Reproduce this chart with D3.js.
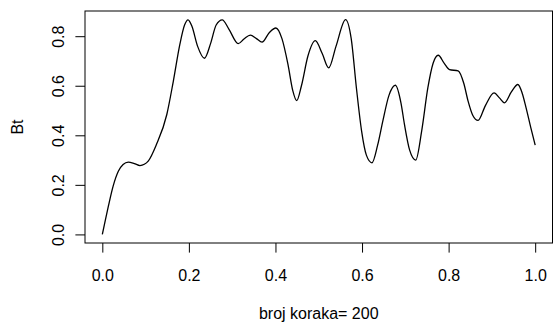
<!DOCTYPE html>
<html>
<head>
<meta charset="utf-8">
<script src="https://cdn.jsdelivr.net/npm/d3@7"></script>
<style>
  html, body { margin: 0; padding: 0; background: #fff; }
  svg text { font-family: "Liberation Sans", Arial, sans-serif; font-size: 16px; fill: #000; }
</style>
</head>
<body>
<svg id="chart" width="553" height="322"></svg>
<script>
// Bt values (200 steps, smooth path)
const steps = [0.000, 0.007, 0.014, 0.025, 0.037, 0.048, 0.060, 0.074, 0.087, 0.097,
  0.106, 0.125, 0.149, 0.164, 0.179, 0.190, 0.198, 0.207, 0.220, 0.236,
  0.250, 0.263, 0.277, 0.292, 0.314, 0.328, 0.342, 0.356, 0.369, 0.386,
  0.401, 0.415, 0.429, 0.440, 0.449, 0.460, 0.475, 0.492, 0.508, 0.523,
  0.540, 0.562, 0.575, 0.587, 0.599, 0.610, 0.623, 0.636, 0.648, 0.662,
  0.677, 0.690, 0.698, 0.710, 0.724, 0.738, 0.752, 0.764, 0.776, 0.790,
  0.802, 0.822, 0.835, 0.845, 0.856, 0.868, 0.885, 0.905, 0.918, 0.929,
  0.945, 0.960, 0.970, 0.979, 0.990, 1.000];
const bt = [0.000, 0.058, 0.114, 0.195, 0.255, 0.282, 0.292, 0.286, 0.278, 0.283,
  0.296, 0.363, 0.484, 0.618, 0.766, 0.845, 0.866, 0.840, 0.760, 0.711,
  0.770, 0.845, 0.866, 0.830, 0.770, 0.790, 0.804, 0.790, 0.776, 0.815,
  0.833, 0.790, 0.685, 0.580, 0.540, 0.600, 0.720, 0.782, 0.730, 0.672,
  0.760, 0.867, 0.790, 0.591, 0.417, 0.320, 0.289, 0.360, 0.457, 0.560,
  0.602, 0.530, 0.444, 0.340, 0.300, 0.420, 0.591, 0.690, 0.723, 0.690,
  0.665, 0.660, 0.610, 0.538, 0.480, 0.460, 0.520, 0.571, 0.550, 0.531,
  0.575, 0.605, 0.570, 0.511, 0.430, 0.360];
const xTicks = [0, 0.2, 0.4, 0.6, 0.8, 1.0];
const yTicks = [0, 0.2, 0.4, 0.6, 0.8];

const plot = { left: 85, right: 552.5, top: 11, bottom: 243 };
const tickLen = 9.6;

const svg = d3.select('#chart');
const data = steps.map((s, i) => ({ x: s, y: bt[i] }));

// R style 4% padding on each side
const pad = ([a, b]) => [a - (b - a) * 0.04, b + (b - a) * 0.04];
const x = d3.scaleLinear().domain(pad(d3.extent(steps))).range([plot.left, plot.right]);
const y = d3.scaleLinear().domain(pad(d3.extent(bt))).range([plot.bottom, plot.top]);

// x axis
const xAxis = svg.append('g')
    .attr('transform', `translate(0,${plot.bottom})`)
    .call(d3.axisBottom(x).tickValues(xTicks).tickSize(tickLen).tickSizeOuter(0)
        .tickFormat(d3.format('.1f')));
xAxis.select('.domain').remove();
xAxis.selectAll('line').attr('stroke', '#000').attr('stroke-width', 1);
xAxis.selectAll('text')
    .attr('fill', '#000')
    .attr('font-size', 16)
    .attr('font-family', '"Liberation Sans", Arial, sans-serif')
    .attr('y', 38).attr('dy', null);

// y axis
const yAxis = svg.append('g')
    .attr('transform', `translate(${plot.left},0)`)
    .call(d3.axisLeft(y).tickValues(yTicks).tickSize(tickLen).tickSizeOuter(0)
        .tickFormat(d3.format('.1f')));
yAxis.select('.domain').remove();
yAxis.selectAll('line').attr('stroke', '#000').attr('stroke-width', 1);
yAxis.selectAll('text')
    .attr('fill', '#000')
    .attr('font-size', 16)
    .attr('font-family', '"Liberation Sans", Arial, sans-serif')
    .attr('x', null).attr('dy', null)
    .attr('text-anchor', 'middle')
    .attr('transform', 'translate(-21,0) rotate(-90)');

// box
svg.append('rect')
    .attr('x', plot.left)
    .attr('y', plot.top)
    .attr('width', plot.right - plot.left)
    .attr('height', plot.bottom - plot.top)
    .attr('fill', 'none')
    .attr('stroke', '#000')
    .attr('stroke-width', 1);

// the path
const line = d3.line()
    .x(d => x(d.x))
    .y(d => y(d.y))
    .curve(d3.curveMonotoneX);

svg.append('path')
    .datum(data)
    .attr('d', line)
    .attr('fill', 'none')
    .attr('stroke', '#000')
    .attr('stroke-width', 1.3);

// axis titles
svg.append('text')
    .attr('x', (plot.left + plot.right) / 2)
    .attr('y', 319)
    .attr('text-anchor', 'middle')
    .text('broj koraka= 200');

svg.append('text')
    .attr('transform', `translate(23,${(plot.top + plot.bottom) / 2}) rotate(-90)`)
    .attr('text-anchor', 'middle')
    .text('Bt');
</script>
</body>
</html>
